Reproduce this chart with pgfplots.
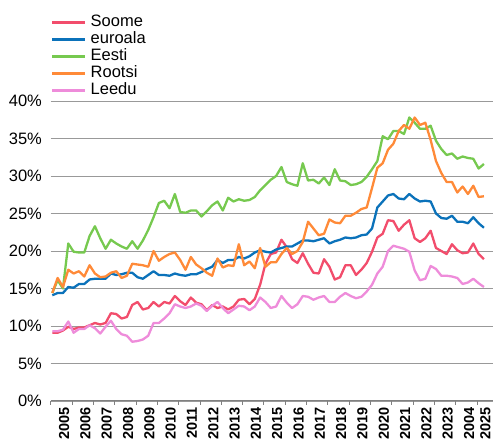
\documentclass[border=0pt]{standalone}
\usepackage{pgfplots}
\usepackage{pgfplotstable}
\pgfplotsset{compat=1.18}
\usepackage{fontspec}
\setmainfont{Liberation Sans}
\definecolor{cSoome}{HTML}{F24D6C}
\definecolor{cEuro}{HTML}{0B72BA}
\definecolor{cEesti}{HTML}{76C94F}
\definecolor{cRootsi}{HTML}{FF8A38}
\definecolor{cLeedu}{HTML}{EE8CDA}
\pgfplotstableread{
x soome euro eesti rootsi leedu
2005.075 9.1 14.1 14.4 14.4 9.3
2005.325 9.1 14.4 16.1 16.4 9.3
2005.575 9.4 14.4 15.0 15.2 9.5
2005.825 9.9 15.2 21.0 17.5 10.6
2006.075 9.6 15.1 19.9 17.0 9.1
2006.325 9.8 15.6 19.8 17.3 9.6
2006.575 9.8 15.6 19.8 16.6 9.6
2006.825 10.1 16.2 22.0 18.1 10.1
2007.075 10.4 16.3 23.3 17.0 9.7
2007.325 10.2 16.3 21.7 16.5 9.0
2007.575 10.4 16.3 20.3 16.6 9.9
2007.825 11.7 17.0 21.5 17.1 10.7
2008.075 11.6 16.8 21.0 17.3 9.6
2008.325 11.0 16.9 20.6 16.4 8.9
2008.575 11.2 17.1 20.3 16.7 8.7
2008.825 12.8 17.1 21.3 18.3 7.9
2009.075 13.2 16.5 20.3 18.2 8.0
2009.325 12.2 16.3 21.4 18.1 8.2
2009.575 12.4 16.8 22.8 17.9 8.7
2009.825 13.2 17.3 24.5 20.0 10.4
2010.075 12.6 16.8 26.4 18.7 10.4
2010.325 13.2 16.8 26.7 19.2 11.0
2010.575 13.0 16.7 25.7 19.6 11.7
2010.825 14.0 17.0 27.6 19.8 12.9
2011.075 13.3 16.8 25.2 18.8 12.6
2011.325 12.8 16.7 25.1 17.5 12.4
2011.575 13.8 16.9 25.4 19.2 12.6
2011.825 13.1 16.9 25.4 18.2 13.0
2012.075 12.9 17.2 24.6 17.7 12.7
2012.325 12.1 17.6 25.3 17.1 12.0
2012.575 12.8 17.9 26.1 16.7 12.7
2012.825 12.4 18.8 26.6 19.0 13.2
2013.075 12.6 18.4 25.4 17.8 12.4
2013.325 12.2 18.8 27.1 18.1 11.7
2013.575 12.6 18.8 26.6 18.0 12.2
2013.825 13.5 19.2 26.9 20.9 12.7
2014.075 13.6 19.0 26.7 18.1 12.6
2014.325 12.9 19.3 26.8 18.6 12.1
2014.575 13.6 19.8 27.2 17.7 12.6
2014.825 15.5 20.1 28.1 20.4 13.8
2015.075 18.3 19.9 28.8 17.9 13.2
2015.325 19.6 19.8 29.5 18.5 12.4
2015.575 19.8 20.2 30.0 18.5 12.6
2015.825 21.5 20.4 31.2 19.6 14.0
2016.075 20.5 20.6 29.2 20.4 13.1
2016.325 18.9 20.6 28.9 19.6 12.4
2016.575 18.4 21.0 28.7 20.0 12.9
2016.825 19.7 21.4 31.7 21.2 14.0
2017.075 18.3 21.4 29.4 23.9 13.9
2017.325 17.1 21.3 29.5 23.0 13.5
2017.575 17.0 21.5 29.0 22.1 13.8
2017.825 18.9 21.7 29.8 22.3 14.0
2018.075 17.9 21.0 28.8 24.2 13.2
2018.325 16.2 21.3 30.9 23.8 13.2
2018.575 16.5 21.5 29.4 23.7 13.9
2018.825 18.1 21.8 29.3 24.7 14.4
2019.075 18.1 21.7 28.8 24.7 14.0
2019.325 16.8 21.8 28.9 25.1 13.7
2019.575 17.5 22.1 29.2 25.6 13.9
2019.825 18.4 22.2 29.9 25.8 14.6
2020.075 19.9 23.0 30.9 28.4 15.5
2020.325 21.8 25.8 32.0 31.1 17.0
2020.575 22.3 26.6 35.3 31.7 17.9
2020.825 24.1 27.4 34.9 33.5 20.0
2021.075 24.0 27.6 36.0 34.3 20.7
2021.325 22.7 27.0 36.0 36.0 20.5
2021.575 23.5 26.9 35.6 36.8 20.3
2021.825 24.1 27.6 37.8 36.3 19.9
2022.075 21.7 27.0 37.1 37.8 17.4
2022.325 21.2 26.6 36.3 36.8 16.1
2022.575 21.7 26.7 36.3 37.1 16.3
2022.825 22.7 26.6 36.7 34.8 18.0
2023.075 20.4 25.0 34.7 32.0 17.6
2023.325 20.0 24.4 33.6 30.4 16.7
2023.575 19.6 24.3 32.8 29.2 16.7
2023.825 20.9 24.7 33.0 29.2 16.6
2024.075 20.1 23.9 32.3 27.8 16.4
2024.325 19.7 23.9 32.6 28.6 15.6
2024.575 19.8 23.7 32.4 27.6 15.8
2024.825 21.0 24.5 32.3 28.7 16.3
2025.075 19.6 23.7 31.0 27.2 15.7
2025.325 18.9 23.1 31.6 27.3 15.2
}\data
\begin{document}
\begin{tikzpicture}
\useasboundingbox (-50.7pt,-40pt) rectangle (442.3pt,401pt);
\begin{axis}[
  scale only axis,
  width=442.3pt, height=300pt,
  xmin=2005, xmax=2025.75,
  ymin=0, ymax=40,
  axis x line*=bottom,
  axis y line*=left,
  y axis line style={draw=none},
  x axis line style={draw=black!50, line width=1pt},
  ytick={0,5,...,40},
  ytick style={draw=none},
  yticklabel={\pgfmathprintnumber{\tick}\%},
  yticklabel style={font=\fontsize{16.5}{18}\selectfont, xshift=-1pt},
  ymajorgrids,
  grid style={draw=black!40, line width=0.9pt},
  /pgf/number format/assume math mode=true,
  xtick={2005.58,2006.58,2007.58,2008.58,2009.58,2010.58,2011.58,2012.58,2013.58,2014.58,2015.58,2016.58,2017.58,2018.58,2019.58,2020.58,2021.58,2022.58,2023.58,2024.58,2025.35},
  xticklabels={2005,2006,2007,2008,2009,2010,2011,2012,2013,2014,2015,2016,2017,2018,2019,2020,2021,2022,2023,2004,2025},
  xticklabel style={rotate=90, anchor=east, font=\fontsize{14.5}{16}\selectfont\bfseries, yshift=-1pt, inner ysep=0.5pt, inner xsep=1.5pt},
  minor xtick={2005,2006,...,2025},
  tick align=outside,
  xtick style={draw=none},
  minor x tick style={draw=black!50, line width=0.8pt},
  minor tick length=4pt,
  legend style={at={(axis description cs:0,1.29)}, anchor=north west, draw=none, fill=none,
    font=\fontsize{16.5}{17}\selectfont, inner sep=0pt, row sep=0pt,
    nodes={inner ysep=0.5pt, text height=12pt, text depth=4pt},
    /tikz/every odd column/.append style={column sep=2pt}},
  legend cell align=left,
  legend image code/.code={\draw[#1, line width=2.8pt] (0pt,0pt) -- (33pt,0pt);},
  every axis plot/.append style={line width=2.3pt, line join=round},
]
\addplot[cSoome, no marks] table[x=x, y=soome] {\data};
\addlegendentry{Soome}
\addplot[cEuro, no marks] table[x=x, y=euro] {\data};
\addlegendentry{euroala}
\addplot[cEesti, no marks] table[x=x, y=eesti] {\data};
\addlegendentry{Eesti}
\addplot[cRootsi, no marks] table[x=x, y=rootsi] {\data};
\addlegendentry{Rootsi}
\addplot[cLeedu, no marks] table[x=x, y=leedu] {\data};
\addlegendentry{Leedu}
\end{axis}
\end{tikzpicture}
\end{document}
